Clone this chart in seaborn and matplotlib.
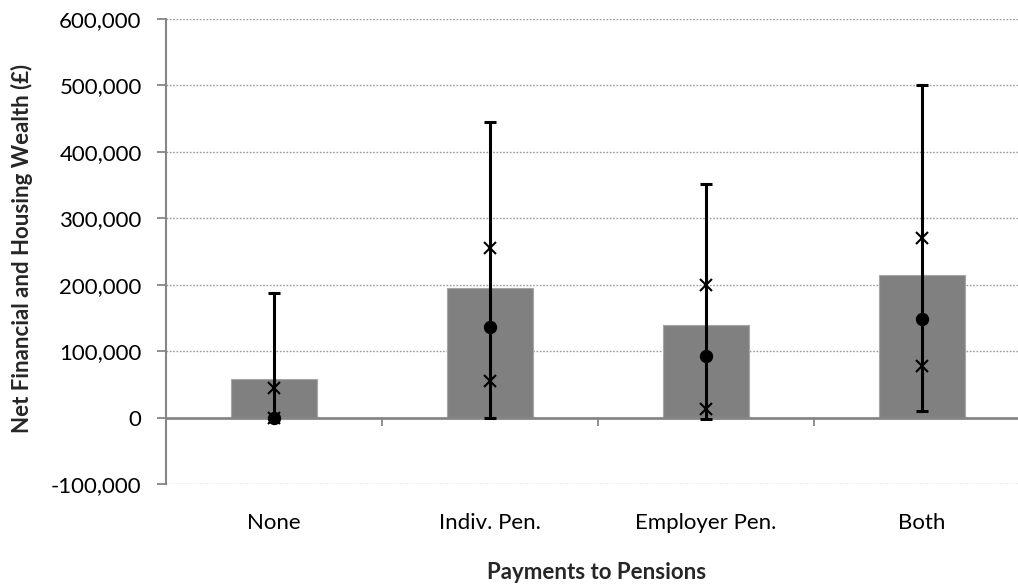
import numpy as np
import pandas as pd
import matplotlib
matplotlib.use("Agg")
import matplotlib.pyplot as plt
import seaborn as sns
from matplotlib.ticker import FuncFormatter, FixedLocator

categories = ["None", "Indiv. Pen.", "Employer Pen.", "Both"]
means = [58000, 195000, 140000, 215000]
p10 = [0, 0, -2000, 10000]
p25 = [0, 55000, 13000, 77000]
medians = [0, 136000, 93000, 149000]
p75 = [45000, 255000, 199000, 271000]
p90 = [187000, 445000, 351000, 500000]
yticks = [-100000, 0, 100000, 200000, 300000, 400000, 500000, 600000]

sns.set_theme(style="white")
plt.rcParams["font.family"] = ["Lato", "DejaVu Sans"]

W, H = 1018, 585
fig = plt.figure(figsize=(W / 100, H / 100), dpi=100)
ax = fig.add_axes([166 / W, (H - 484) / H, (W - 166) / W, (484 - 19) / H])

df = pd.DataFrame({"cat": categories, "mean": means})
sns.barplot(data=df, x="cat", y="mean", color="#808080", saturation=1,
            width=0.4, edgecolor="#a6a6a6", linewidth=0.8, ax=ax, zorder=2)

x = np.arange(len(categories))
med = np.array(medians)
lo = med - np.array(p10)
hi = np.array(p90) - med
ax.errorbar(x, med, yerr=[lo, hi], fmt="o", color="black", ecolor="black",
            elinewidth=2.2, capsize=4.5, capthick=2.2, markersize=8.6, zorder=4)
ax.plot(x, p25, linestyle="none", marker="x", color="black", markersize=9,
        markeredgewidth=1.5, zorder=5)
ax.plot(x, p75, linestyle="none", marker="x", color="black", markersize=9,
        markeredgewidth=1.5, zorder=5)

ax.set_ylim(-100000, 600000)
ax.set_xlim(-0.5, 3.5 - 12 / 216)
ax.set_yticks(yticks)
ax.yaxis.set_major_formatter(FuncFormatter(lambda v, p: f"{v:,.0f}"))
for yv in yticks:
    if yv != 0:
        ax.axhline(yv, color="#9a9a9a", linewidth=1.0, linestyle=(0, (1.2, 1.2)), zorder=1)

for s in ["top", "right", "bottom"]:
    ax.spines[s].set_visible(False)
ax.spines["left"].set_color("#868686")
ax.spines["left"].set_linewidth(1.5)
ax.tick_params(axis="y", which="major", direction="out", length=6.5, width=1.3,
               color="#868686", labelsize=16, labelcolor="black", pad=11, left=True)
ax.tick_params(axis="x", which="major", length=0, labelsize=16, labelcolor="black", pad=21)

# zero axis line with category-boundary ticks
sec = ax.secondary_xaxis(1 / 7)
sec.spines["bottom"].set_color("#868686")
sec.spines["bottom"].set_linewidth(2.0)
sec.xaxis.set_major_locator(FixedLocator([0.5, 1.5, 2.5]))
sec.tick_params(axis="x", direction="out", length=6, width=1.3, color="#868686",
                labelbottom=False)
sec.set_zorder(3)

ax.set_xlabel("")
ax.set_ylabel("")
fig.text(597 / W, 1 - 579 / H, "Payments to Pensions", fontsize=16, fontweight="bold",
         ha="center", va="baseline")
fig.text(22 / W, 1 - 248 / H, "Net Financial and Housing Wealth (£)", fontsize=16,
         fontweight="bold", ha="center", va="center", rotation=90)

fig.savefig("out.png", dpi=100)
